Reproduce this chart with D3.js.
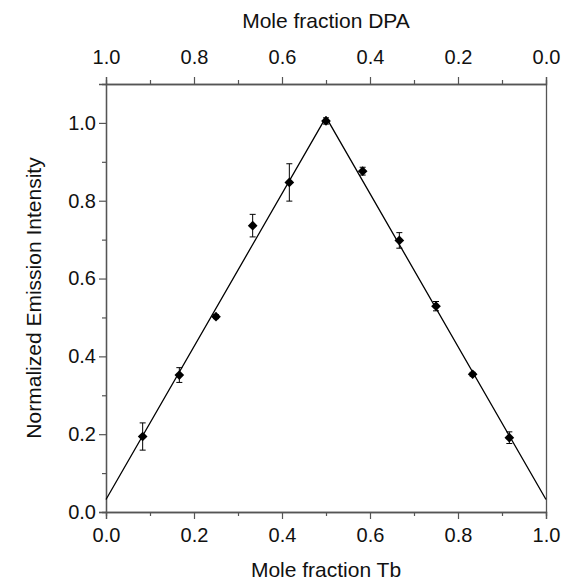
<!DOCTYPE html>
<html>
<head>
<meta charset="utf-8">
<script src="https://cdn.jsdelivr.net/npm/d3@7"></script>
<style>
body { margin: 0; background: #fff; }
svg { display: block; font-family: Arial, 'Liberation Sans', sans-serif; }
.axis path, .axis line { stroke: #555; }
.axis text { font-size: 20px; fill: #111; font-family: Arial, 'Liberation Sans', sans-serif; }
.title { font-size: 21px; fill: #111; text-anchor: middle; }
</style>
</head>
<body>
<svg id="chart"></svg>
<script>
'use strict';
//Data.
const tbFrac = [1/12, 2/12, 3/12, 4/12, 5/12, 6/12, 7/12, 8/12, 9/12, 10/12, 11/12];
const intensity = [0.194, 0.352, 0.502, 0.736, 0.847, 1.005, 0.876, 0.698, 0.529, 0.354, 0.191];
const errs = [0.035, 0.019, 0.005, 0.029, 0.048, 0.008, 0.01, 0.02, 0.012, 0.005, 0.015];
//Fitted lines (x, y) end points.
const fitX = [0, 0.5, 1];
const fitY = [0.032, 1.015, 0.032];
const majorTicks = [0, 0.2, 0.4, 0.6, 0.8, 1.0];
const minorTicks = [0.1, 0.3, 0.5, 0.7, 0.9];

const W = 563, H = 582;
const m = {left: 106, right: 17, top: 84, bottom: 70};
const w = W - m.left - m.right;
const h = H - m.top - m.bottom;

const svg = d3.select('#chart').attr('width', W).attr('height', H);
const g = svg.append('g').attr('transform', `translate(${m.left},${m.top})`);

const x = d3.scaleLinear().domain([0, 1]).range([0, w]);
const xTop = d3.scaleLinear().domain([1, 0]).range([0, w]);
const y = d3.scaleLinear().domain([0, 1.1]).range([h, 0]);
const fmt = d3.format('.1f');

//Minor ticks first, then major axes on top.
g.append('g').attr('class', 'axis').attr('transform', `translate(0,${h})`)
	.call(d3.axisBottom(x).tickValues(minorTicks).tickSize(4).tickFormat(''));
g.append('g').attr('class', 'axis')
	.call(d3.axisTop(xTop).tickValues(minorTicks).tickSize(4).tickFormat(''));
g.append('g').attr('class', 'axis')
	.call(d3.axisLeft(y).tickValues([0.1, 0.3, 0.5, 0.7, 0.9]).tickSize(4).tickFormat(''));

g.append('g').attr('class', 'axis').attr('transform', `translate(0,${h})`)
	.call(d3.axisBottom(x).tickValues(majorTicks).tickSize(7).tickPadding(9).tickFormat(fmt));
g.append('g').attr('class', 'axis')
	.call(d3.axisTop(xTop).tickValues(majorTicks).tickSize(7).tickPadding(13).tickFormat(fmt));
g.append('g').attr('class', 'axis')
	.call(d3.axisLeft(y).tickValues(majorTicks).tickSize(7).tickPadding(3).tickFormat(fmt));
g.append('g').attr('class', 'axis').attr('transform', `translate(${w},0)`)
	.call(d3.axisRight(y).tickValues([]).tickSize(0));
g.selectAll('.axis path').attr('stroke-width', 1.3);
g.selectAll('.axis line').attr('stroke-width', 1.2);

//Fit line.
g.append('path')
	.datum(fitX.map((d, i) => [d, fitY[i]]))
	.attr('fill', 'none')
	.attr('stroke', '#000')
	.attr('stroke-width', 1.3)
	.attr('d', d3.line().x(d => x(d[0])).y(d => y(d[1])));

//Error bars.
const pts = tbFrac.map((d, i) => ({x: d, y: intensity[i], e: errs[i]}));
const eb = g.append('g').attr('stroke', '#000').attr('stroke-width', 1);
pts.forEach(p => {
	const cx = x(p.x);
	eb.append('line').attr('x1', cx).attr('x2', cx).attr('y1', y(p.y - p.e)).attr('y2', y(p.y + p.e));
	eb.append('line').attr('x1', cx - 3).attr('x2', cx + 3).attr('y1', y(p.y - p.e)).attr('y2', y(p.y - p.e));
	eb.append('line').attr('x1', cx - 3).attr('x2', cx + 3).attr('y1', y(p.y + p.e)).attr('y2', y(p.y + p.e));
});

//Diamond markers.
g.selectAll('path.pt').data(pts).enter().append('path')
	.attr('class', 'pt')
	.attr('d', d3.symbol().type(d3.symbolDiamond2).size(60))
	.attr('transform', d => `translate(${x(d.x)},${y(d.y)})`)
	.attr('fill', '#000');

//Titles.
svg.append('text').attr('class', 'title').attr('x', m.left + w / 2).attr('y', 577).text('Mole fraction Tb');
svg.append('text').attr('class', 'title').attr('x', m.left + w / 2).attr('y', 28).text('Mole fraction DPA');
svg.append('text').attr('class', 'title')
	.attr('transform', `translate(41,${m.top + h / 2}) rotate(-90)`)
	.text('Normalized Emission Intensity');
</script>
</body>
</html>
